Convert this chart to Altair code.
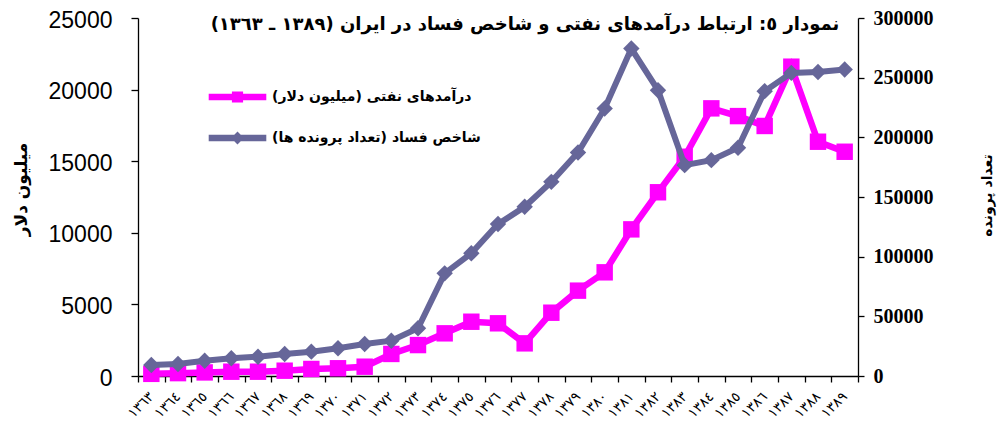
import altair as alt
import pandas as pd

years = ["١٣٦٣", "١٣٦٤", "١٣٦٥", "١٣٦٦", "١٣٦٧", "١٣٦٨", "١٣٦٩", "١٣٧٠", "١٣٧١",
         "١٣٧٢", "١٣٧٣", "١٣٧٤", "١٣٧٥", "١٣٧٦", "١٣٧٧", "١٣٧٨", "١٣٧٩", "١٣٨٠",
         "١٣٨١", "١٣٨٢", "١٣٨٣", "١٣٨٤", "١٣٨٥", "١٣٨٦", "١٣٨٧", "١٣٨٨", "١٣٨٩"]
oil_revenue = [150, 200, 250, 300, 300, 370, 490, 540, 650, 1540, 2160, 2980, 3790,
               3680, 2280, 4420, 5960, 7240, 10240, 12830, 15310, 18690, 18150,
               17460, 21600, 16360, 15660]
corruption_cases = [9200, 10000, 12800, 14800, 16200, 18400, 20400, 23200, 26800,
                    29600, 40000, 86000, 102800, 127300, 141800, 162700, 187300,
                    224200, 274400, 239500, 176700, 180900, 191200, 238700, 254000,
                    254800, 256800]
series_names = ["درآمدهای نفتی (میلیون دلار)\u200f", "شاخص فساد (تعداد پرونده ها)\u200f"]
series_colors = ["#FF00FF", "#666699"]
oil_ticks = [0, 5000, 10000, 15000, 20000, 25000]
case_ticks = [0, 50000, 100000, 150000, 200000, 250000, 300000]
title_text = "\u200fنمودار ٥: ارتباط درآمدهای نفتی و شاخص فساد در ایران (١٣٨٩ ـ ١٣٦٣)\u200f"
left_title = "میلیون دلار"
right_title = "تعداد پرونده"

legend_paths = [
    "M-3.2,-0.37H3.2V0.37H-3.2Z M-0.62,-0.62H0.62V0.62H-0.62Z",
    "M-3.2,-0.37H3.2V0.37H-3.2Z M0,-0.72L0.72,0L0,0.72L-0.72,0Z",
]

df = pd.DataFrame({"year": years, "oil": oil_revenue, "cases": corruption_cases})
legend_df = pd.DataFrame({"series": series_names, "year": [years[0]] * 2, "oil": [0, 0]})

x_enc = alt.X(
    "year:N",
    sort=None,
    scale=alt.Scale(type="band", domain=years, paddingInner=0, paddingOuter=0),
    axis=alt.Axis(
        title=None, labelAngle=-45, labelAlign="right", labelBaseline="middle",
        labelFont="DejaVu Sans", labelFontSize=14, labelColor="black",
        labelPadding=12, tickSize=6, tickColor="black", tickWidth=1.3,
        domainColor="black", domainWidth=1.3, tickBand="extent",
        labelOverlap=False, grid=False,
    ),
)

y_oil = alt.Y(
    "oil:Q",
    scale=alt.Scale(domain=[0, 25000], nice=False),
    axis=alt.Axis(
        orient="left", values=oil_ticks, format="d", title=left_title,
        titleAngle=270, titleX=-117, titleY=171, titleAlign="center",
        titleBaseline="middle", titleFont="DejaVu Sans", titleFontSize=17,
        titleFontWeight="bold", titleColor="black",
        labelFont="Liberation Sans", labelFontSize=23, labelColor="black",
        labelPadding=19, labelOffset=2, tickSize=7, tickColor="black", tickWidth=1.3,
        domainColor="black", domainWidth=1.3, grid=False, labelOverlap=False,
    ),
)

y_cases = alt.Y(
    "cases:Q",
    scale=alt.Scale(domain=[0, 300000], nice=False),
    axis=alt.Axis(
        orient="right", values=case_ticks, format="d", title=right_title,
        titleAngle=270, titleX=129, titleY=177, titleAlign="center",
        titleBaseline="middle", titleFont="DejaVu Sans", titleFontSize=14,
        titleFontWeight="bold", titleColor="black",
        labelFont="Liberation Serif", labelFontSize=20, labelFontWeight="bold",
        labelColor="black", labelPadding=9, tickSize=6, tickColor="black",
        tickWidth=1.3, domainColor="black", domainWidth=1.3, grid=False,
        labelOverlap=False,
    ),
)

legend = alt.Legend(
    orient="none", legendX=90.5, legendY=70, title=None, symbolSize=324,
    symbolStrokeWidth=0, symbolOpacity=1, labelFont="DejaVu Sans",
    labelFontSize=14, labelFontWeight="bold", labelColor="black",
    labelOffset=25.5, rowPadding=25, padding=0, labelLimit=400,
)

oil_line = alt.Chart(df).mark_line(color=series_colors[0], strokeWidth=6.5).encode(x=x_enc, y=y_oil)
oil_pts = alt.Chart(df).mark_point(shape="square", filled=True, size=270,
                                   color=series_colors[0], opacity=1).encode(x=x_enc, y=y_oil)
legend_layer = alt.Chart(legend_df).mark_point(filled=True, opacity=0).encode(
    x=x_enc, y=y_oil,
    color=alt.Color("series:N", scale=alt.Scale(domain=series_names, range=series_colors), legend=legend),
    shape=alt.Shape("series:N", scale=alt.Scale(domain=series_names, range=legend_paths), legend=legend),
)
oil_layer = alt.layer(oil_line, oil_pts, legend_layer)

case_line = alt.Chart(df).mark_line(color=series_colors[1], strokeWidth=6).encode(x=x_enc, y=y_cases)
case_pts = alt.Chart(df).mark_point(shape="diamond", filled=True, size=270,
                                    color=series_colors[1], opacity=1).encode(x=x_enc, y=y_cases)
case_layer = alt.layer(case_line, case_pts)

chart = alt.layer(oil_layer, case_layer).resolve_scale(y="independent").properties(
    width=720, height=358,
    autosize=alt.AutoSizeParams(type="none"),
    padding={"left": 130, "top": 10, "right": 141, "bottom": 44},
    title=alt.TitleParams(
        text=title_text, anchor="middle", font="DejaVu Sans", fontSize=18,
        fontWeight="bold", color="black", dx=27, offset=0, dy=26,
    ),
).configure_view(stroke=None)

chart.save("out.html", embed_options={"renderer": "svg", "actions": False})
